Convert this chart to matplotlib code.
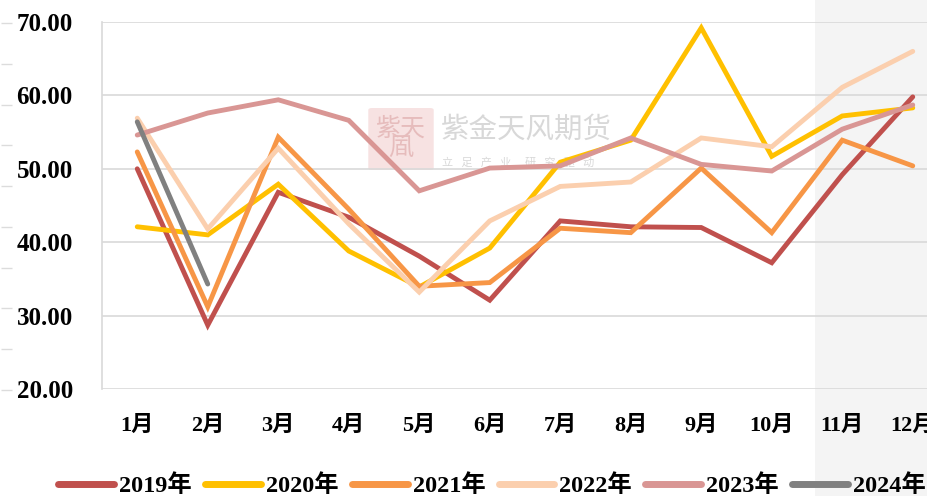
import matplotlib.pyplot as plt
from matplotlib.patches import Rectangle, FancyBboxPatch

months = ['1月', '2月', '3月', '4月', '5月', '6月', '7月', '8月', '9月', '10月', '11月', '12月']
y2019 = [50.0, 28.7, 46.8, 43.4, 38.1, 32.1, 42.9, 42.1, 42.0, 37.2, 49.2, 59.8]
y2020 = [42.1, 41.0, 47.9, 38.8, 33.9, 39.2, 50.9, 53.9, 69.2, 51.7, 57.2, 58.3]
y2021 = [52.3, 31.2, 54.3, 44.5, 34.0, 34.5, 41.9, 41.3, 50.1, 41.3, 53.9, 50.4]
y2022 = [56.9, 41.8, 52.8, 42.5, 33.2, 42.9, 47.6, 48.2, 54.2, 53.0, 61.1, 66.0]
y2023 = [54.6, 57.6, 59.4, 56.6, 47.0, 50.1, 50.4, 54.2, 50.6, 49.7, 55.4, 58.7]
y2024 = [56.4, 34.3]

series = [
    ('2019年', y2019, '#C0504D'),
    ('2020年', y2020, '#FFC000'),
    ('2021年', y2021, '#F79646'),
    ('2022年', y2022, '#FBCFAE'),
    ('2023年', y2023, '#D99694'),
    ('2024年', y2024, '#808080'),
]

fonts = ['Liberation Serif', 'Noto Sans CJK SC']
plt.rcParams['font.family'] = fonts
plt.rcParams['font.weight'] = 'bold'

fig = plt.figure(figsize=(9.28, 4.96), dpi=100)

# faint watermark band on the right
fig.patches.append(Rectangle((815 / 928, 0), 113 / 928, 1, transform=fig.transFigure,
                             facecolor='#f4f4f4', edgecolor='none', zorder=-2))

# small dashes at the very left edge
tk = fig.add_axes([0.0, 106 / 496, 0.001, 367 / 496])
tk.set_ylim(0, 9)
tk.set_yticks(range(10))
tk.yaxis.tick_right()
tk.tick_params(axis='y', length=8, width=1, color='#dcdcdc', labelright=False, direction='out')
tk.set_xticks([])
for s in tk.spines.values():
    s.set_visible(False)
tk.patch.set_alpha(0)

# watermark
fig.patches.append(FancyBboxPatch((372 / 928, 328 / 496), 58 / 928, 58 / 496,
                                  boxstyle='round,pad=0.004', transform=fig.transFigure,
                                  facecolor='#f7e2e2', edgecolor='none', zorder=-1))
fig.text(401 / 928, 357 / 496, '紫天\n凮', fontsize=18, color='#e6bcbc', ha='center',
         va='center', family=fonts, fontweight='normal', linespacing=0.85, zorder=-1)
fig.text(441 / 928, 366 / 496, '紫金天风期货', fontsize=20.5, color='#d8d8d8',
         family=fonts, fontweight='normal', va='center', zorder=-1)
fig.text(442 / 928, 333 / 496, '立   足   产   业     研   究   驱   动', fontsize=8,
         color='#d8d8d8', family=fonts, fontweight='normal', va='center', zorder=-1)

ax = fig.add_axes([102 / 928, 107 / 496, 846 / 928, 367 / 496])
ax.patch.set_alpha(0)

x = list(range(len(months)))
for name, vals, color in series:
    ax.plot(x[:len(vals)], vals, color=color, lw=3.5, label=name,
            solid_capstyle='round', solid_joinstyle='miter', zorder=3)

ax.set_xlim(-0.5, 11.5)
ax.set_ylim(20, 70)
ax.set_yticks([20, 30, 40, 50, 60, 70])
ax.set_yticklabels([f'{v:.2f}' for v in [20, 30, 40, 50, 60, 70]])
ax.set_xticks(x)
ax.set_xticklabels(months)
ax.grid(axis='y', color='#d9d9d9', lw=1.2)
ax.set_axisbelow(True)
for side in ['top', 'right', 'bottom']:
    ax.spines[side].set_visible(False)
ax.spines['left'].set_color('#d9d9d9')
ax.spines['left'].set_linewidth(1.2)
ax.tick_params(axis='y', length=0, pad=21, labelsize=18)
ax.tick_params(axis='x', length=0, pad=19, labelsize=16)

fig.legend(loc='center', bbox_to_anchor=(492 / 928, 10 / 496), ncol=6, frameon=False,
           fontsize=17.5, handlelength=2.3, handletextpad=0.2, columnspacing=0.55,
           borderaxespad=0)
for line in fig.legends[0].get_lines():
    line.set_linewidth(5)

fig.savefig('out.png', dpi=100)
